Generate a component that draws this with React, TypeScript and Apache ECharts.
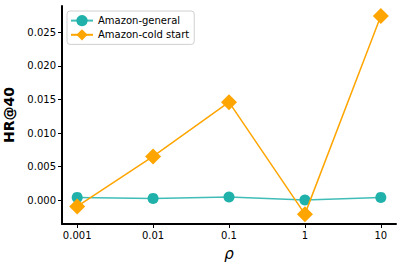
import React, { useEffect, useRef } from "react";
import * as echarts from "echarts";

const categories = ["0.001", "0.01", "0.1", "1", "10"];
const generalValues = [0.0004, 0.00025, 0.00045, 0.0, 0.0004];
const coldStartValues = [-0.00095, 0.0065, 0.0146, -0.0021, 0.02746];
const yTicks = [0, 0.005, 0.01, 0.015, 0.02, 0.025];

export default function App() {
  const ref = useRef<HTMLDivElement>(null);
  useEffect(() => {
    if (!ref.current) return;
    const chart = echarts.init(ref.current, undefined, { renderer: "svg" });
    const font = "DejaVu Sans";
    chart.setOption({
      animation: false,
      textStyle: { fontFamily: font },
      grid: { left: 62, top: 6, right: 7, bottom: 44, containLabel: false, outerBoundsMode: "none" },
      legend: {
        left: 67,
        top: 11,
        orient: "vertical",
        itemWidth: 22,
        itemHeight: 14,
        itemGap: 3,
        padding: [4, 5, 4, 3],
        borderColor: "#d0d0d0",
        borderWidth: 1,
        borderRadius: 3,
        textStyle: { fontFamily: font, fontSize: 10, color: "#000" },
        data: ["Amazon-general", "Amazon-cold start"],
      },
      xAxis: {
        type: "value",
        min: -0.2,
        max: 4.2,
        name: "ρ",
        nameLocation: "middle",
        nameGap: 22,
        nameTextStyle: { fontFamily: font, fontSize: 15, fontStyle: "italic", color: "#000" },
        axisLine: { onZero: false, lineStyle: { color: "#000", width: 2 } },
        axisTick: { show: true, length: 4, lineStyle: { color: "#000", width: 1 }, customValues: [0, 1, 2, 3, 4] },
        axisLabel: {
          customValues: [0, 1, 2, 3, 4],
          formatter: (v: number) => categories[Math.round(v)] ?? "",
          fontFamily: font,
          fontSize: 10,
          color: "#000",
          margin: 6,
        },
        splitLine: { show: false },
      },
      yAxis: {
        type: "value",
        min: -0.00357,
        max: 0.02894,
        name: "HR@40",
        nameLocation: "middle",
        nameGap: 28,
        nameTextStyle: { fontFamily: font, fontSize: 14, fontWeight: "bold", color: "#000" },
        axisLine: { show: true, onZero: false, lineStyle: { color: "#000", width: 2 } },
        axisTick: { show: true, length: 4, lineStyle: { color: "#000", width: 1 }, customValues: yTicks },
        axisLabel: {
          customValues: yTicks,
          formatter: (v: number) => v.toFixed(3),
          fontFamily: font,
          fontSize: 10,
          color: "#000",
          margin: 6,
        },
        splitLine: { show: false },
      },
      series: [
        {
          name: "Amazon-general",
          type: "line",
          data: generalValues.map((v, i) => [i, v]),
          symbol: "circle",
          symbolSize: 11,
          itemStyle: { color: "#20B2AA" },
          lineStyle: { color: "#20B2AA", width: 1.5, opacity: 0.85 },
          z: 2,
        },
        {
          name: "Amazon-cold start",
          type: "line",
          data: coldStartValues.map((v, i) => [i, v]),
          symbol: "diamond",
          symbolSize: 16,
          itemStyle: { color: "#FFA500" },
          lineStyle: { color: "#FFA500", width: 1.5 },
          z: 3,
        },
      ],
    });
    return () => chart.dispose();
  }, []);
  return <div ref={ref} style={{ position: "absolute", left: 0, top: 0, width: 403, height: 268 }} />;
}
